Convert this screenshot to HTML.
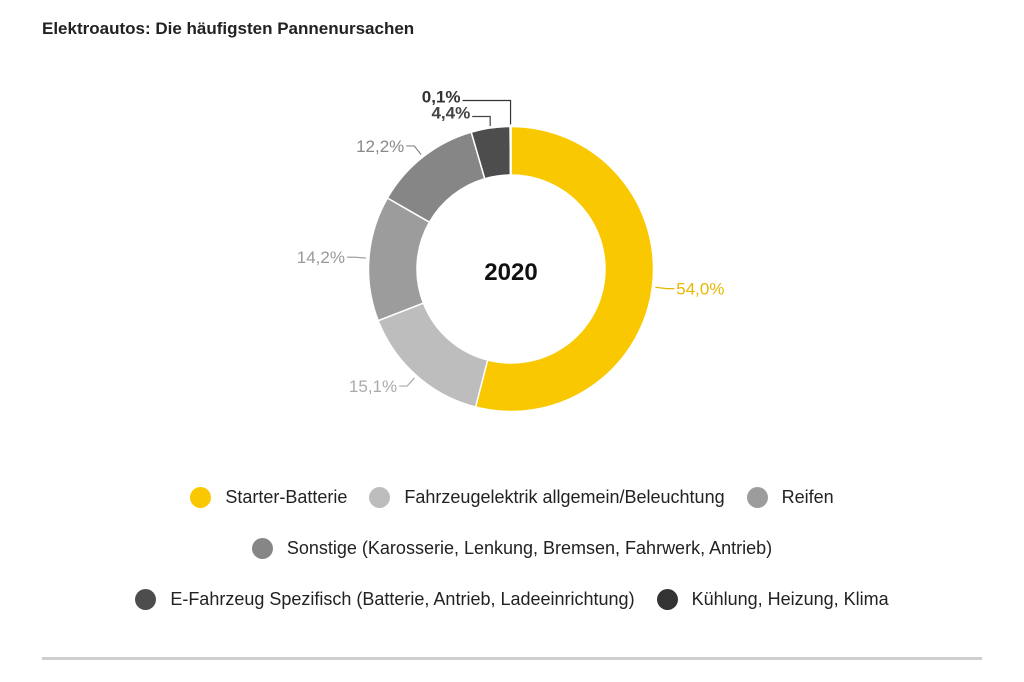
<!DOCTYPE html>
<html><head><meta charset="utf-8"><style>
body{margin:0;background:#fff;font-family:"Liberation Sans",sans-serif}
#c{position:relative;width:1024px;height:682px;overflow:hidden}
.t{position:absolute;left:42px;top:19px;font-size:17px;font-weight:bold;color:#222}
.row{position:absolute;left:0;width:1024px;display:flex;justify-content:center;gap:22px;font-size:18px;color:#222}
.it{display:flex;align-items:center}
.dot{width:21px;height:21px;border-radius:50%;margin-right:14px}
.hr{position:absolute;left:42px;width:940px;top:657px;height:3px;background:#cfcfcf}
</style></head><body>
<div id="c">
<div class="t">Elektroautos: Die häufigsten Pannenursachen</div>
<svg id="s" width="1024" height="682" style="position:absolute;left:0;top:0">
<text x="511" y="280" text-anchor="middle" font-size="24" font-weight="bold" fill="#111">2020</text>
</svg>
<div class="row" style="top:487px">
<div class="it"><span class="dot" style="background:#f9c800"></span>Starter-Batterie</div>
<div class="it"><span class="dot" style="background:#bdbdbd"></span>Fahrzeugelektrik allgemein/Beleuchtung</div>
<div class="it"><span class="dot" style="background:#9c9c9c"></span>Reifen</div>
</div>
<div class="row" style="top:538px">
<div class="it"><span class="dot" style="background:#868686"></span>Sonstige (Karosserie, Lenkung, Bremsen, Fahrwerk, Antrieb)</div>
</div>
<div class="row" style="top:589px">
<div class="it"><span class="dot" style="background:#4d4d4d"></span>E-Fahrzeug Spezifisch (Batterie, Antrieb, Ladeeinrichtung)</div>
<div class="it"><span class="dot" style="background:#333"></span>Kühlung, Heizung, Klima</div>
</div>
<div class="hr"></div>
</div>
<script>
const categories=["Starter-Batterie","Fahrzeugelektrik","Reifen","Sonstige","E-Fahrzeug Spezifisch","Kühlung, Heizung, Klima"];
const values=[54.0,15.1,14.2,12.2,4.4,0.1];
const valueLabels=["54,0%","15,1%","14,2%","12,2%","4,4%","0,1%"];
const colors=["#f9c800","#bdbdbd","#9c9c9c","#868686","#4d4d4d","#333333"];
const labelColors=["#e8b800","#aaaaaa","#999999","#888888","#444444","#333333"];
const s=document.getElementById('s'),NS="http://www.w3.org/2000/svg";
const cx=511,cy=269,R=142.5,r=94;
const total=values.reduce((a,b)=>a+b,0);
function pt(a,rad){return [cx+rad*Math.sin(a),cy-rad*Math.cos(a)];}
let cum=0,stack=0;
values.forEach((v,i)=>{
  const a0=cum/total*2*Math.PI;cum+=v;const a1=cum/total*2*Math.PI;
  const lg=(a1-a0)>Math.PI?1:0;
  const [x0,y0]=pt(a0,R),[x1,y1]=pt(a1,R),[x2,y2]=pt(a1,r),[x3,y3]=pt(a0,r);
  const p=document.createElementNS(NS,'path');
  p.setAttribute('d',`M${x0},${y0}A${R},${R} 0 ${lg} 1 ${x1},${y1}L${x2},${y2}A${r},${r} 0 ${lg} 0 ${x3},${y3}Z`);
  p.setAttribute('fill',colors[i]);p.setAttribute('stroke','#fff');p.setAttribute('stroke-width','1.5');
  
  
  s.appendChild(p);
  const am=(a0+a1)/2;
  const ln=document.createElementNS(NS,'polyline');
  const t=document.createElementNS(NS,'text');
  const nearTop=Math.cos(am)>0.95 && v<6;
  if(nearTop){
    const [lx,ly]=pt(am,R+2);
    const ty=cy-R-10-stack*16;
    const hx=lx-18-stack*30;
    ln.setAttribute('points',`${lx},${ly} ${lx},${ty} ${hx},${ty}`);
    t.setAttribute('x',hx-2);t.setAttribute('y',ty+2);
    t.setAttribute('text-anchor','end');
    stack++;
  } else {
    const [lx,ly]=pt(am,R+3),[ex,ey]=pt(am,R+14);
    const right=Math.sin(am)>=0;
    const hx=ex+(right?8:-8);
    ln.setAttribute('points',`${lx},${ly} ${ex},${ey} ${hx},${ey}`);
    t.setAttribute('x',hx+(right?2:-2));t.setAttribute('y',ey+6);
    t.setAttribute('text-anchor',right?'start':'end');
  }
  ln.setAttribute('fill','none');ln.setAttribute('stroke',labelColors[i]);ln.setAttribute('stroke-width','1.2');
  
  
  s.appendChild(ln);
  t.setAttribute('font-size','17');t.setAttribute('fill',labelColors[i]);
  if(i>=4)t.setAttribute('font-weight','bold');
  t.textContent=valueLabels[i];
  
  
  s.appendChild(t);
});
</script>
</body></html>
